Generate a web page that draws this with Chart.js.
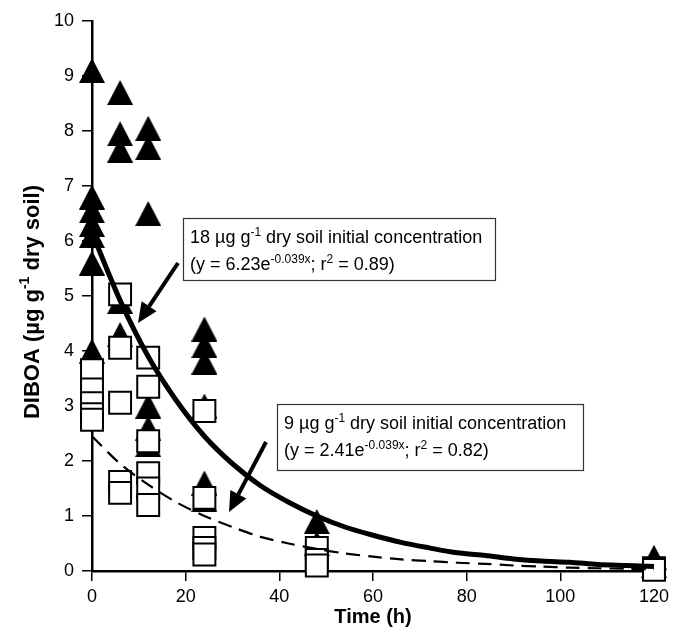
<!DOCTYPE html>
<html>
<head>
<meta charset="utf-8">
<script src="https://cdn.jsdelivr.net/npm/chart.js@4.4.1/dist/chart.umd.min.js"></script>
<style>
  html, body { margin: 0; padding: 0; background: #fff; }
  #wrap { width: 674px; height: 634px; }
</style>
</head>
<body>
<div id="wrap"><canvas id="chDiboa"></canvas></div>
<script>
// 18 ug/g treatment (filled triangles)
const highTimes  = [0, 0, 0, 0, 0, 0, 0, 6, 6, 6, 6, 6, 12, 12, 12, 12, 12, 12, 24, 24, 24, 24, 24, 24, 48, 48, 120, 120];
const highValues = [9.1, 6.8, 6.55, 6.3, 6.1, 5.6, 4.0, 8.7, 7.95, 7.65, 4.9, 4.3, 8.05, 7.7, 6.5, 3.0, 2.6, 2.3, 4.4, 4.1, 3.8, 3.0, 1.6, 1.3, 0.9, 0.5, 0.25, 0.1];

// 9 ug/g treatment (open squares)
const lowTimes  = [0, 0, 0, 0, 0, 6, 6, 6, 6, 6, 12, 12, 12, 12, 12, 12, 24, 24, 24, 24, 24, 48, 48, 48, 120, 120];
const lowValues = [3.65, 3.3, 3.05, 2.85, 2.75, 5.03, 4.06, 3.06, 1.62, 1.42, 3.88, 3.35, 2.36, 1.78, 1.5, 1.2, 2.91, 1.33, 0.6, 0.42, 0.3, 0.42, 0.2, 0.1, 0.05, 0.02];

// fitted curves
const fitTimes = [0, 6, 12, 18, 24, 30, 36, 42, 48, 54, 60, 66, 72, 78, 84, 90, 96, 102, 108, 114, 120];
const highFit  = [6.15, 4.92, 3.9, 3.1, 2.45, 1.95, 1.55, 1.25, 1.0, 0.8, 0.65, 0.52, 0.42, 0.33, 0.28, 0.22, 0.18, 0.16, 0.12, 0.1, 0.08];
const lowFit   = [2.45, 1.95, 1.57, 1.25, 1.0, 0.8, 0.62, 0.5, 0.4, 0.32, 0.26, 0.21, 0.18, 0.15, 0.13, 0.1, 0.08, 0.06, 0.05, 0.04, 0.03];

const xTicks = [0, 20, 40, 60, 80, 100, 120];
const yTicks = [0, 1, 2, 3, 4, 5, 6, 7, 8, 9, 10];

function pairs(xs, ys) {
  return xs.map(function (x, i) { return { x: x, y: ys[i] }; });
}

function makeTriangle(w, h) {
  var c = document.createElement("canvas");
  c.width = w;
  c.height = h;
  var g = c.getContext("2d");
  g.fillStyle = "#000";
  g.beginPath();
  g.moveTo(w / 2, 0);
  g.lineTo(w, h);
  g.lineTo(0, h);
  g.closePath();
  g.fill();
  return c;
}

// text with superscripts: parts = [[text, isSup], ...]
function drawRich(ctx, x, y, parts, big, small, lift, bold) {
  var b = bold ? "bold " : "";
  parts.forEach(function (p) {
    ctx.font = b + (p[1] ? small : big) + "px 'Liberation Sans', Arial";
    ctx.fillText(p[0], x, p[1] ? y - lift : y);
    x += ctx.measureText(p[0]).width;
  });
}

function richWidth(ctx, parts, big, small, bold) {
  var b = bold ? "bold " : "";
  var w = 0;
  parts.forEach(function (p) {
    ctx.font = b + (p[1] ? small : big) + "px 'Liberation Sans', Arial";
    w += ctx.measureText(p[0]).width;
  });
  return w;
}

function arrow(ctx, x1, y1, x2, y2) {
  var a = Math.atan2(y2 - y1, x2 - x1);
  var hl = 20, hw = 9;
  var bx = x2 - Math.cos(a) * hl, by = y2 - Math.sin(a) * hl;
  ctx.strokeStyle = "#000";
  ctx.lineWidth = 4;
  ctx.beginPath();
  ctx.moveTo(x1, y1);
  ctx.lineTo(bx, by);
  ctx.stroke();
  ctx.fillStyle = "#000";
  ctx.beginPath();
  ctx.moveTo(x2, y2);
  ctx.lineTo(bx + Math.sin(a) * hw, by - Math.cos(a) * hw);
  ctx.lineTo(bx - Math.sin(a) * hw, by + Math.cos(a) * hw);
  ctx.closePath();
  ctx.fill();
}

function noteBox(ctx, x, y, w, h, line1, line2) {
  ctx.fillStyle = "#fff";
  ctx.fillRect(x, y, w, h);
  ctx.strokeStyle = "#333";
  ctx.lineWidth = 1.2;
  ctx.strokeRect(x + 0.5, y + 0.5, w, h);
  ctx.fillStyle = "#000";
  ctx.textBaseline = "alphabetic";
  ctx.textAlign = "left";
  drawRich(ctx, x + 7, y + 25, line1, 18, 12, 7);
  drawRich(ctx, x + 7, y + 52, line2, 18, 12, 7);
}

const notes = {
  id: "notes",
  afterDraw: function (chart) {
    var ctx = chart.ctx;
    ctx.save();

    noteBox(ctx, 183, 218, 312, 62,
      [["18 \u00b5g g", false], ["-1", true], [" dry soil initial concentration", false]],
      [["(y = 6.23e", false], ["-0.039x", true], ["; r", false], ["2", true], [" = 0.89)", false]]);
    noteBox(ctx, 277, 404, 306, 66,
      [["9 \u00b5g g", false], ["-1", true], [" dry soil initial concentration", false]],
      [["(y = 2.41e", false], ["-0.039x", true], ["; r", false], ["2", true], [" = 0.82)", false]]);

    arrow(ctx, 178, 263, 138, 323);
    arrow(ctx, 266, 442, 229, 512);

    // axis titles
    var area = chart.chartArea;
    ctx.fillStyle = "#000";
    ctx.textBaseline = "middle";
    ctx.textAlign = "center";
    ctx.font = "bold 20px 'Liberation Sans', Arial";
    ctx.fillText("Time (h)", (area.left + area.right) / 2, 617);

    var yTitle = [["DIBOA (\u00b5g g", false], ["-1", true], [" dry soil)", false]];
    ctx.save();
    ctx.translate(33, (area.top + area.bottom) / 2 + 6);
    ctx.rotate(-Math.PI / 2);
    ctx.textAlign = "left";
    var w = richWidth(ctx, yTitle, 22, 14, true);
    drawRich(ctx, -w / 2, 0, yTitle, 22, 14, 8, true);
    ctx.restore();

    ctx.restore();
  }
};

const tickFont = { family: "'Liberation Sans', Arial", size: 18 };

const config = {
  type: "scatter",
  data: {
    datasets: [
      {
        label: "18 fit",
        data: pairs(fitTimes, highFit),
        showLine: true,
        borderColor: "#000",
        borderWidth: 5,
        pointRadius: 0,
        tension: 0.3,
        clip: false,
        order: 1
      },
      {
        label: "9 fit",
        data: pairs(fitTimes, lowFit),
        showLine: true,
        borderColor: "#000",
        borderWidth: 2.2,
        borderDash: [14, 8],
        pointRadius: 0,
        tension: 0.3,
        clip: false,
        order: 2
      },
      {
        label: "9 ug/g",
        data: pairs(lowTimes, lowValues),
        pointStyle: "rect",
        pointRadius: 15.5,
        backgroundColor: "#fff",
        borderColor: "#000",
        borderWidth: 2,
        clip: false,
        order: 3
      },
      {
        label: "18 ug/g",
        data: pairs(highTimes, highValues),
        pointStyle: makeTriangle(26, 25),
        pointRadius: 13,
        clip: false,
        order: 4
      }
    ]
  },
  options: {
    responsive: true,
    maintainAspectRatio: false,
    animation: false,
    events: [],
    layout: { padding: { top: 21, right: 17, left: 0, bottom: 0 } },
    plugins: { legend: { display: false }, tooltip: { enabled: false } },
    scales: {
      x: {
        type: "linear",
        min: 0,
        max: 120,
        afterBuildTicks: function (s) { s.ticks = xTicks.map(function (v) { return { value: v }; }); },
        afterFit: function (s) { s.height = 63; },
        ticks: { font: tickFont, color: "#000", padding: 5 },
        grid: { drawOnChartArea: false, color: "#000", lineWidth: 1.5, tickLength: 10 },
        border: { color: "#000", width: 2.5 }
      },
      y: {
        type: "linear",
        min: 0,
        max: 10,
        afterBuildTicks: function (s) { s.ticks = yTicks.map(function (v) { return { value: v }; }); },
        afterFit: function (s) { s.width = 92; },
        ticks: { font: tickFont, color: "#000", padding: 8 },
        grid: { drawOnChartArea: false, color: "#000", lineWidth: 1.5, tickLength: 10 },
        border: { color: "#000", width: 2.5 }
      }
    }
  },
  plugins: [notes]
};

var myChart = new Chart(document.getElementById("chDiboa"), config);
</script>
</body>
</html>
